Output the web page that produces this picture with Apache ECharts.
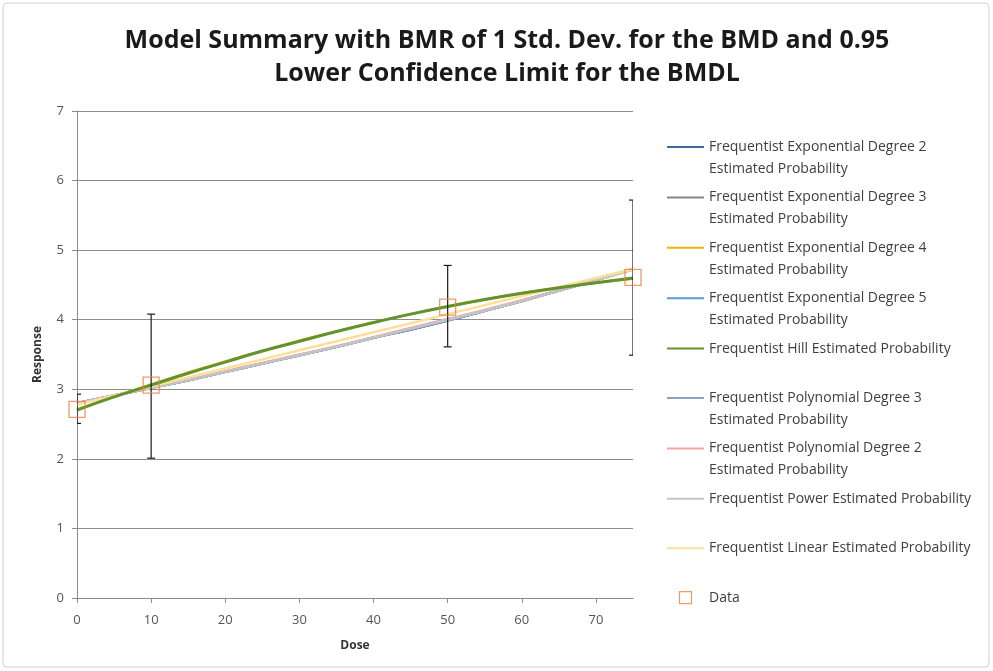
<!DOCTYPE html>
<html>
<head>
<meta charset="utf-8">
<script src="https://cdn.jsdelivr.net/npm/echarts@6/dist/echarts.min.js"></script>
<style>
  html, body { margin: 0; padding: 0; background: #fff; }
  #chart { width: 993px; height: 671px; }
</style>
</head>
<body>
<div id="chart"></div>
<script>
// doses at which the fitted curves are read
var doses = [0, 5, 10, 15, 20, 25, 30, 35, 40, 45, 50, 55, 60, 65, 70, 75];

var expDeg2 = [2.80, 2.91, 3.02, 3.13, 3.25, 3.37, 3.49, 3.61, 3.74, 3.86, 3.99, 4.13, 4.27, 4.42, 4.57, 4.73];
var expDeg3 = [2.80, 2.91, 3.02, 3.13, 3.25, 3.37, 3.49, 3.61, 3.74, 3.86, 3.99, 4.13, 4.27, 4.42, 4.57, 4.73];
var expDeg4 = [2.71, 2.89, 3.07, 3.24, 3.40, 3.55, 3.70, 3.83, 3.96, 4.08, 4.19, 4.29, 4.38, 4.46, 4.53, 4.59];
var expDeg5 = [2.80, 2.91, 3.02, 3.13, 3.25, 3.37, 3.49, 3.61, 3.74, 3.86, 3.99, 4.13, 4.27, 4.42, 4.57, 4.73];
var hill    = [2.70, 2.89, 3.06, 3.23, 3.39, 3.55, 3.69, 3.83, 3.96, 4.08, 4.19, 4.29, 4.38, 4.46, 4.53, 4.60];
var polyDeg3 = [2.80, 2.91, 3.02, 3.13, 3.25, 3.37, 3.49, 3.61, 3.74, 3.87, 4.00, 4.13, 4.27, 4.42, 4.57, 4.73];
var polyDeg2 = [2.79, 2.91, 3.02, 3.14, 3.26, 3.38, 3.50, 3.62, 3.75, 3.88, 4.01, 4.14, 4.28, 4.42, 4.57, 4.72];
var power    = [2.80, 2.91, 3.02, 3.13, 3.25, 3.37, 3.49, 3.61, 3.74, 3.87, 4.00, 4.13, 4.27, 4.42, 4.57, 4.72];
var linear   = [2.78, 2.91, 3.04, 3.17, 3.30, 3.43, 3.56, 3.69, 3.82, 3.95, 4.08, 4.21, 4.34, 4.47, 4.60, 4.73];

// observed data with confidence limits
var dataDose  = [0, 10, 50, 75];
var dataMean  = [2.71, 3.06, 4.18, 4.61];
var dataLower = [2.51, 2.01, 3.61, 3.49];
var dataUpper = [2.93, 4.08, 4.78, 5.72];

var curveNames = [
    'Frequentist Exponential Degree 2 Estimated Probability',
    'Frequentist Exponential Degree 3 Estimated Probability',
    'Frequentist Exponential Degree 4 Estimated Probability',
    'Frequentist Exponential Degree 5 Estimated Probability',
    'Frequentist Hill Estimated Probability',
    'Frequentist Polynomial Degree 3 Estimated Probability',
    'Frequentist Polynomial Degree 2 Estimated Probability',
    'Frequentist Power Estimated Probability',
    'Frequentist Linear Estimated Probability'
];
var curveValues = [expDeg2, expDeg3, expDeg4, expDeg5, hill, polyDeg3, polyDeg2, power, linear];
var curveColors = ['#44679e', '#858585', '#f0b400', '#5b9bd5', '#62932f', '#8ea2c8', '#f4a6a0', '#c4c4c4', '#fbe09a'];
var twoLine = [true, true, true, true, false, true, true, false, false];
var dataColor = '#e3824a';

var chart = echarts.init(document.getElementById('chart'));

function pairs(xs, ys) {
    return xs.map(function (x, i) { return [x, ys[i]]; });
}

var series = curveNames.map(function (name, i) {
    var isHill = name.indexOf('Hill') >= 0;
    return {
        name: name,
        type: 'line',
        data: pairs(doses, curveValues[i]),
        symbol: 'none',
        smooth: true,
        z: isHill ? 4 : 3,
        lineStyle: { color: curveColors[i], width: isHill ? 3 : 2.5 },
        itemStyle: { color: curveColors[i] }
    };
});

series.push({
    name: 'Data',
    type: 'scatter',
    data: pairs(dataDose, dataMean),
    symbol: 'rect',
    symbolSize: 16,
    z: 6,
    itemStyle: { color: 'rgba(0,0,0,0)', borderColor: dataColor, borderWidth: 1.3 }
});

series.push({
    name: 'errors',
    type: 'custom',
    clip: true,
    z: 5,
    data: dataDose.map(function (d, i) { return [d, dataLower[i], dataUpper[i]]; }),
    renderItem: function (params, api) {
        var lo = api.coord([api.value(0), api.value(1)]);
        var hi = api.coord([api.value(0), api.value(2)]);
        var half = 4;
        var style = { stroke: '#1a1a1a', lineWidth: 1.2 };
        return {
            type: 'group',
            children: [
                { type: 'line', shape: { x1: lo[0], y1: lo[1], x2: hi[0], y2: hi[1] }, style: style },
                { type: 'line', shape: { x1: lo[0] - half, y1: lo[1], x2: lo[0] + half, y2: lo[1] }, style: style },
                { type: 'line', shape: { x1: hi[0] - half, y1: hi[1], x2: hi[0] + half, y2: hi[1] }, style: style }
            ]
        };
    }
});

var lineIcon = 'path://M0,0 L37,0 L37,2 L0,2 Z';
var legendData = curveNames.map(function (n, i) {
    return { name: n, icon: lineIcon, itemStyle: { color: curveColors[i] } };
});
legendData.push({
    name: 'Data',
    icon: 'path://M0,0 L10,0 L10,10 L0,10 Z',
    itemStyle: { color: 'rgba(0,0,0,0)', borderColor: dataColor, borderWidth: 1.2 }
});

option = {
    backgroundColor: '#fff',
    animation: false,
    title: {
        text: 'Model Summary with BMR of 1 Std. Dev. for the BMD and 0.95\nLower Confidence Limit for the BMDL',
        left: 502,
        textAlign: 'center',
        top: 19,
        textStyle: {
            fontFamily: 'Open Sans',
            fontWeight: 'bold',
            fontSize: 25,
            lineHeight: 33,
            color: '#1a1a1a'
        }
    },
    graphic: [{
        type: 'rect',
        shape: { x: 3, y: 3, width: 986, height: 664, r: 4 },
        style: { fill: 'none', stroke: '#d0d0d0', lineWidth: 1 },
        silent: true
    }],
    grid: { left: 77, right: 360, top: 111, bottom: 73 },
    legend: {
        orient: 'vertical',
        left: 667,
        top: 119,
        padding: 0,
        itemGap: -6.6,
        itemWidth: 37,
        itemHeight: 12,
        data: legendData,
        formatter: function (name) {
            var i = curveNames.indexOf(name);
            if (i >= 0 && twoLine[i]) {
                var first = name.replace(' Estimated Probability', '');
                return '{p| }\n{t|' + first + '}\n{t|Estimated Probability}';
            }
            if (name === 'Data') {
                return '{p| }\n{t|Data}\n{p| }';
            }
            return '{p| }\n{t|' + name + '}\n{p| }';
        },
        textStyle: {
            rich: {
                p: { lineHeight: 22, fontSize: 12 },
                t: { lineHeight: 22, fontSize: 14, fontFamily: 'Open Sans', color: '#404040' }
            }
        }
    },
    xAxis: {
        type: 'value',
        min: 0,
        max: 75,
        interval: 10,
        name: 'Dose',
        nameLocation: 'middle',
        nameGap: 42,
        nameTextStyle: { fontFamily: 'Open Sans', fontWeight: 'bold', fontSize: 12, color: '#333' },
        axisLine: { lineStyle: { color: '#8c8c8c' } },
        axisTick: { show: true, inside: false, length: 5, lineStyle: { color: '#8c8c8c' } },
        axisLabel: { showMaxLabel: false, fontFamily: 'Open Sans', fontSize: 13, color: '#555', margin: 16 },
        splitLine: { show: false }
    },
    yAxis: {
        type: 'value',
        min: 0,
        max: 7,
        interval: 1,
        name: 'Response',
        nameLocation: 'middle',
        nameGap: 33,
        nameTextStyle: { fontFamily: 'Open Sans', fontWeight: 'bold', fontSize: 12, color: '#333' },
        axisLine: { show: true, lineStyle: { color: '#8c8c8c' } },
        axisTick: { show: true, inside: false, length: 5, lineStyle: { color: '#8c8c8c' } },
        axisLabel: { fontFamily: 'Open Sans', fontSize: 13, color: '#555', margin: 13 },
        splitLine: { show: true, lineStyle: { color: '#8c8c8c', width: 1 } }
    },
    series: series
};

chart.setOption(option);
</script>
</body>
</html>
